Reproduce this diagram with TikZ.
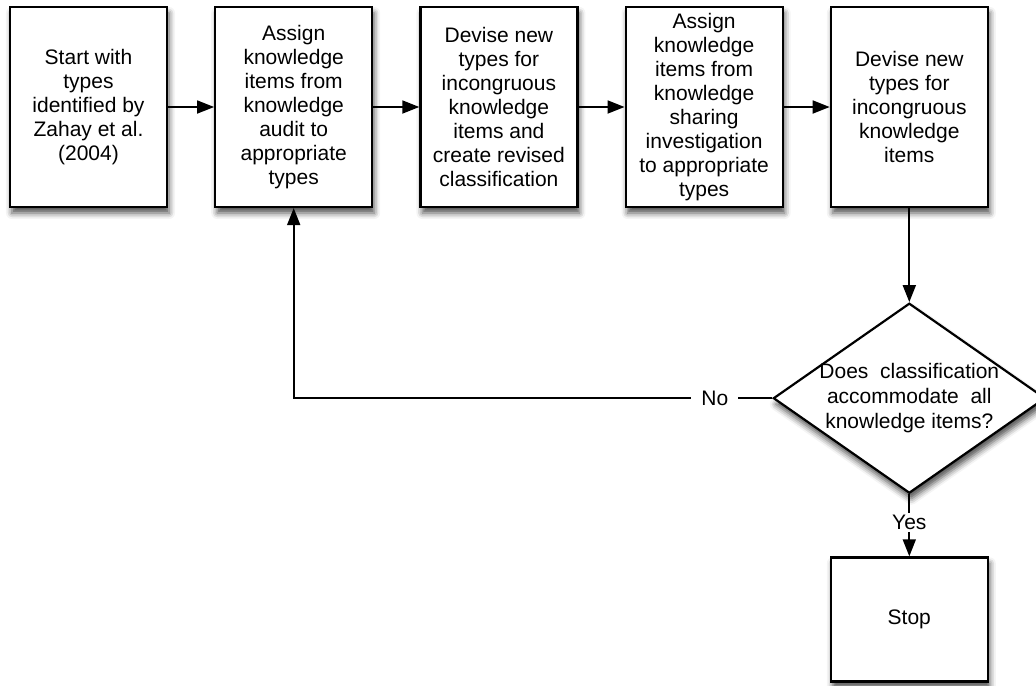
\documentclass[tikz,border=0pt]{standalone}
\usepackage{fontspec}
\setmainfont{Liberation Sans}
\usetikzlibrary{positioning,shapes.geometric,arrows.meta,shadows.blur}
\tikzset{
    stepbox/.style={rectangle,draw,line width=1.1pt,fill=white,
        minimum width=78.5pt,minimum height=100pt,inner sep=0pt,align=center,
        blur shadow={shadow xshift=1pt,shadow yshift=-3pt,shadow blur radius=3pt,shadow opacity=70},
        font=\fontsize{10.5}{12}\selectfont},
    decision/.style={diamond,draw,line width=1.1pt,fill=white,
        minimum width=136pt,minimum height=95pt,inner sep=0pt,align=center,
        blur shadow={shadow xshift=1pt,shadow yshift=-3pt,shadow blur radius=3pt,shadow opacity=70},
        font=\fontsize{10.5}{12.5}\selectfont},
    flow/.style={line width=0.9pt,-{Triangle[length=8.5pt,width=6.5pt]}},
    lbl/.style={fill=white,inner xsep=5pt,inner ysep=1pt,font=\fontsize{10.5}{12}\selectfont}
}
\begin{document}
\begin{tikzpicture}[node distance=23pt]
    \useasboundingbox (0,0) rectangle (518pt,-342.5pt);
    % top row
    \node [stepbox] (start) at (44.25pt,-53.5pt) {Start with\\types\\identified by\\Zahay et al.\\(2004)};
    \node [stepbox,right=of start] (audit) {Assign\\knowledge\\items from\\knowledge\\audit to\\appropriate\\types};
    \node [stepbox,right=of audit] (devise1) {Devise new\\types for\\incongruous\\knowledge\\items and\\create revised\\classification};
    \node [stepbox,right=of devise1] (sharing) {Assign\\knowledge\\items from\\knowledge\\sharing\\investigation\\to appropriate\\types};
    \node [stepbox,right=of sharing] (devise2) {Devise new\\types for\\incongruous\\knowledge\\items};
    % decision and end
    \node [decision,below=47pt of devise2] (check) {\makebox[0pt]{Does\ \ classification}\\\makebox[0pt]{accommodate\ \ all}\\\makebox[0pt]{knowledge items?}};
    \node [stepbox,minimum height=62pt,below=31pt of check] (stop) {Stop};
    % connectors
    \draw [flow] (start) -- (audit);
    \draw [flow] (audit) -- (devise1);
    \draw [flow] (devise1) -- (sharing);
    \draw [flow] (sharing) -- (devise2);
    \draw [flow] (devise2) -- (check);
    \draw [flow] (check.south) -- node [lbl,pos=0.45] (yes) {Yes} (stop);
    \draw [flow] (check.west) -- node [lbl,pos=0.12] (no) {No} (check.west -| audit.south) -- (audit.south);
\end{tikzpicture}
\end{document}
